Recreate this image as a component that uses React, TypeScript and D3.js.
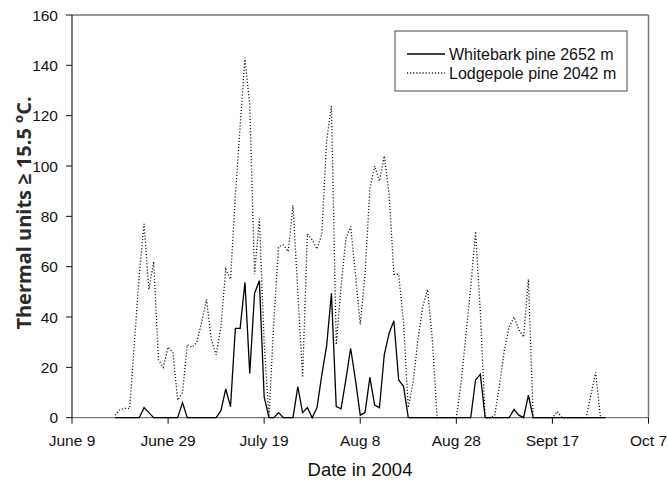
import React from 'react';
import * as d3 from 'd3';

// Daily series, starting June 18, 2004
const seriesStart = new Date(2004, 5, 18);

const whitebark: number[] = [
  0, 0, 0, 0, 0, 0, 4, 2, 0, 0, 0, 0, 0, 0, 6, 0, 0, 0, 0, 0, 0, 0,
  2.8, 11.4, 4.4, 35.5, 35.5, 53.8, 17.6, 49.4, 54.4, 8.3, 0, 0, 2, 0, 0, 0,
  12.3, 2, 4, 0, 4, 17, 28.5, 49.4, 4.4, 3.5, 15, 27.6, 15, 1, 2, 16, 5, 4,
  25, 33.5, 38.5, 15, 12.5,
  0, 0, 0, 0, 0, 0, 0, 0, 0, 0, 0, 0, 0, 0,
  15, 17.2, 0, 0, 0, 0, 0, 0, 3.3, 1, 0, 9,
  0, 0, 0, 0, 0, 0, 0, 0, 0, 0, 0, 0, 0, 0, 0, 0,
];

const lodgepole: number[] = [
  1, 3.3, 3.7, 3.7, 30, 57, 77, 51, 62, 23, 20, 28, 26, 7, 10, 29, 28, 30,
  38, 47, 31, 25, 36, 59, 55, 88, 116, 143, 124, 57, 79, 30, 0, 38, 68, 68.6,
  66, 84.5, 50, 16, 73, 70.6, 67, 73, 110, 124, 29, 52, 71, 76, 57, 37, 57,
  91, 100, 94, 104, 89, 57, 57, 38, 4, 14, 31, 44, 51, 31, 0, 0, 0, 0, 0,
  14, 33, 52, 74, 42, 0, 0, 1, 13, 27, 36, 40, 35, 32, 55, 0, 0, 0, 0, 0,
  2.5, 0, 0, 0, 0, 0, 0, 9, 18, 0, 0,
];

const xTickLabels = ['June 9', 'June 29', 'July 19', 'Aug 8', 'Aug 28', 'Sept 17', 'Oct 7'];
const yTickValues = [0, 20, 40, 60, 80, 100, 120, 140, 160];
const legendLabels = ['Whitebark pine 2652 m', 'Lodgepole pine 2042 m'];

const FONT = "'Liberation Sans', Arial, sans-serif";

export default function App() {
  const W = 668;
  const H = 487;
  const left = 72;
  const right = 648.5;
  const top = 15;
  const bottom = 417.7;

  const domainStart = new Date(2004, 5, 9);
  const domainEnd = new Date(2004, 9, 7);
  const x = d3.scaleTime().domain([domainStart, domainEnd]).range([left, right]);
  const y = d3.scaleLinear().domain([0, 160]).range([bottom, top]);

  const tickDates = xTickLabels.map((_, i) => d3.timeDay.offset(domainStart, i * 20));

  const line = d3
    .line<number>()
    .x((_, i) => x(d3.timeDay.offset(seriesStart, i)))
    .y((v) => y(v));

  const lx = 395;
  const ly = 31;
  const lw = 232;
  const lh = 60;

  return (
    <svg
      width={W}
      height={H}
      style={{ position: 'absolute', left: 0, top: 0, background: '#fff' }}
      fontFamily={FONT}
    >
      <rect x={0} y={0} width={W} height={H} fill="#fff" />
      {/* frame */}
      <line x1={left} x2={right} y1={top} y2={top} stroke="#777" strokeWidth={1.3} />
      <line x1={right} x2={right} y1={top} y2={bottom} stroke="#777" strokeWidth={1.5} />
      <line x1={left} x2={right} y1={bottom} y2={bottom} stroke="#777" strokeWidth={1.3} />
      <line x1={left} x2={left} y1={top} y2={bottom} stroke="#111" strokeWidth={1.1} />

      {/* y ticks */}
      {yTickValues.map((v) => (
        <g key={v}>
          <line x1={left - 6} x2={left} y1={y(v)} y2={y(v)} stroke="#111" strokeWidth={1} />
          <text
            x={left - 14}
            y={y(v)}
            textAnchor="end"
            dominantBaseline="central"
            fontSize={15.5}
            fill="#111"
          >
            {v}
          </text>
        </g>
      ))}

      {/* x ticks */}
      {tickDates.map((d, i) => (
        <g key={i}>
          <line x1={x(d)} x2={x(d)} y1={bottom} y2={bottom + 6} stroke="#111" strokeWidth={1} />
          <text x={x(d)} y={446} textAnchor="middle" fontSize={15.5} fill="#111">
            {xTickLabels[i]}
          </text>
        </g>
      ))}

      {/* series */}
      <path
        d={line(lodgepole) || ''}
        fill="none"
        stroke="#111"
        strokeWidth={1.3}
        strokeDasharray="1.1 2"
      />
      <path d={line(whitebark) || ''} fill="none" stroke="#000" strokeWidth={1.3} strokeLinejoin="miter" />

      {/* axis titles */}
      <text x={360} y={476} textAnchor="middle" fontSize={18.5} fill="#111">
        Date in 2004
      </text>
      <text
        transform={`translate(31, ${213}) rotate(-90)`}
        textAnchor="middle"
        fontSize={20}
        fontWeight="bold"
        fontFamily="'Open Sans', 'Liberation Sans', sans-serif"
        fill="#2a2a2a"
      >
        Thermal units ≥ 15.5 <tspan fontSize={13} dy={-8}>o</tspan>
        <tspan dy={8}>C.</tspan>
      </text>

      {/* legend */}
      <rect x={lx} y={ly} width={lw} height={lh} fill="#fff" stroke="#444" strokeWidth={1} />
      <line x1={407} x2={445} y1={54} y2={54} stroke="#000" strokeWidth={1.3} />
      <line x1={407} x2={445} y1={73} y2={73} stroke="#111" strokeWidth={1.3} strokeDasharray="1.1 2" />
      <text x={449} y={54} dominantBaseline="central" fontSize={16} fill="#111">
        {legendLabels[0]}
      </text>
      <text x={449} y={73.5} dominantBaseline="central" fontSize={16} fill="#111">
        {legendLabels[1]}
      </text>
    </svg>
  );
}
